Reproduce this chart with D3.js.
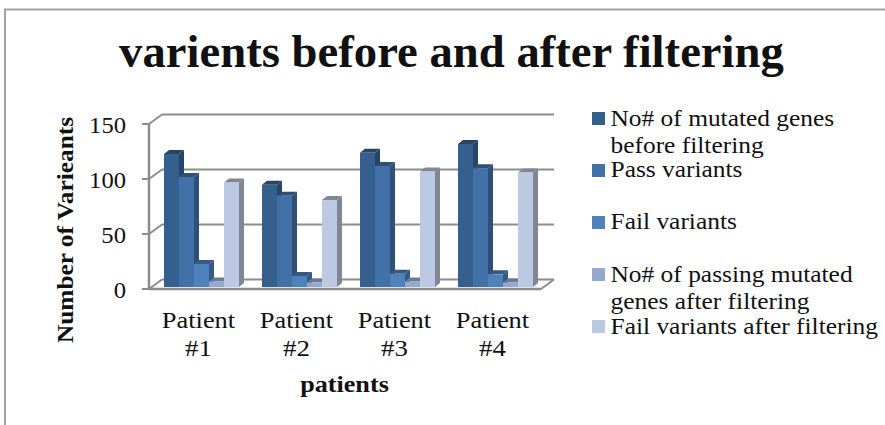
<!DOCTYPE html>
<html><head><meta charset="utf-8">
<script src="https://cdn.jsdelivr.net/npm/d3@7/dist/d3.min.js"></script>
<style>html,body{margin:0;padding:0;background:#fff}svg{display:block}text{font-family:"Liberation Serif",serif;fill:#111}</style>
</head><body><svg id="c" width="885" height="425"></svg>
<script>
const categories = [["Patient","#1"],["Patient","#2"],["Patient","#3"],["Patient","#4"]];
const seriesNames = [["No# of mutated genes","before filtering"],["Pass variants"],["Fail variants"],["No# of passing mutated","genes after filtering"],["Fail variants after filtering"]];
const mutatedBefore = [121,93,122,130];
const passVariants = [100,83,110,108];
const failVariants = [21,10,12,11.5];
const passingAfter = [5,4,5,4];
const failAfter = [95,79,105,104];
const yTicks = [0,50,100,150];
const series = [mutatedBefore,passVariants,failVariants,passingAfter,failAfter];
const faces = [["#355f8d","#274565"],["#4271a8","#2f4f77"],["#4f81bd","#375a85"],["#94a9d0","#6b7a97"],["#bcc9e2","#7f8696"]];
const legendY = [[126,153],[177],[229],[282,309],[334]];
const legendSw = [112,164,216,268,320];

const svg = d3.select("#c");
// draws text widened by a fixed factor so that it fills the same run as the reference's wider face
function label(sel, str, size, stretch){
  const t = sel.text(str).attr("font-size",size);
  const w = t.node().getComputedTextLength();
  t.attr("textLength",w*stretch).attr("lengthAdjust","spacingAndGlyphs");
  return t;
}
svg.append("rect").attr("x",5).attr("y",9.5).attr("width",900).attr("height",430).attr("fill","#fff").attr("stroke","#a0a0a0").attr("stroke-width",2);

const y = d3.scaleLinear().domain([0,150]).range([289,124]);
const x = d3.scaleBand().domain(d3.range(4)).range([149,541]);
const depthX = 13, depthY = -9.5;
const grid = "#8c8c8c";

yTicks.forEach(t=>{
  const g = svg.append("g");
  g.append("line").attr("x1",149).attr("y1",y(t)).attr("x2",149+depthX).attr("y2",y(t)+depthY).attr("stroke",grid).attr("stroke-width",2);
  g.append("line").attr("x1",149+depthX).attr("y1",y(t)+depthY).attr("x2",541+depthX).attr("y2",y(t)+depthY).attr("stroke",grid).attr("stroke-width",2);
  g.append("line").attr("x1",142).attr("y1",y(t)).attr("x2",149).attr("y2",y(t)).attr("stroke",grid).attr("stroke-width",2);
  label(svg.append("text").attr("x",126).attr("y",y(t)+9).attr("text-anchor","end"),String(t),23,1.07);
});
svg.append("line").attr("x1",149).attr("y1",y(150)).attr("x2",149).attr("y2",y(0)).attr("stroke",grid).attr("stroke-width",2.5);
svg.append("line").attr("x1",149).attr("y1",y(0)).attr("x2",541).attr("y2",y(0)).attr("stroke",grid).attr("stroke-width",2.5);
svg.append("line").attr("x1",541).attr("y1",y(0)).attr("x2",541+depthX).attr("y2",y(0)+depthY).attr("stroke",grid).attr("stroke-width",2);

const base = 287, barW = 15, sideX = 5, topY = -4;
const vy = v => base - (y(0)-y(v));
categories.forEach((c,i)=>{
  series.forEach((s,j)=>{
    const x0 = x(i)+15+j*barW, x1 = x0+barW, t = vy(s[i]);
    const col = faces[j];
    const g = svg.append("g");
    g.append("polygon").attr("points",[[x1,base],[x1+sideX,base+topY],[x1+sideX,t+topY],[x1,t]].join(" ")).attr("fill",col[1]);
    g.append("polygon").attr("points",[[x0,t],[x0+sideX,t+topY],[x1+sideX,t+topY],[x1,t]].join(" ")).attr("fill",col[1]);
    g.append("rect").attr("x",x0).attr("y",t).attr("width",barW).attr("height",base-t).attr("fill",col[0]);
  });
  const cx = x(i)+49.5;
  label(svg.append("text").attr("x",cx).attr("y",328).attr("text-anchor","middle"),c[0],24,1.1);
  label(svg.append("text").attr("x",cx).attr("y",356).attr("text-anchor","middle"),c[1],24,1.12);
});

label(svg.append("text").attr("x",451.5).attr("y",67).attr("text-anchor","middle").attr("font-weight","bold"),"varients before and after filtering",46,1.015);
label(svg.append("text").attr("x",344.5).attr("y",392).attr("text-anchor","middle").attr("font-weight","bold"),"patients",24,1.09);
label(svg.append("text").attr("transform","translate(73,230) rotate(-90)").attr("text-anchor","middle").attr("font-weight","bold"),"Number of Varieants",24,1.056);

seriesNames.forEach((n,j)=>{
  svg.append("rect").attr("x",592).attr("y",legendSw[j]).attr("width",13).attr("height",13).attr("fill",faces[j][0]);
  n.forEach((l,k)=>label(svg.append("text").attr("x",610.5).attr("y",legendY[j][k]),l,23,1.105));
});
</script></body></html>
